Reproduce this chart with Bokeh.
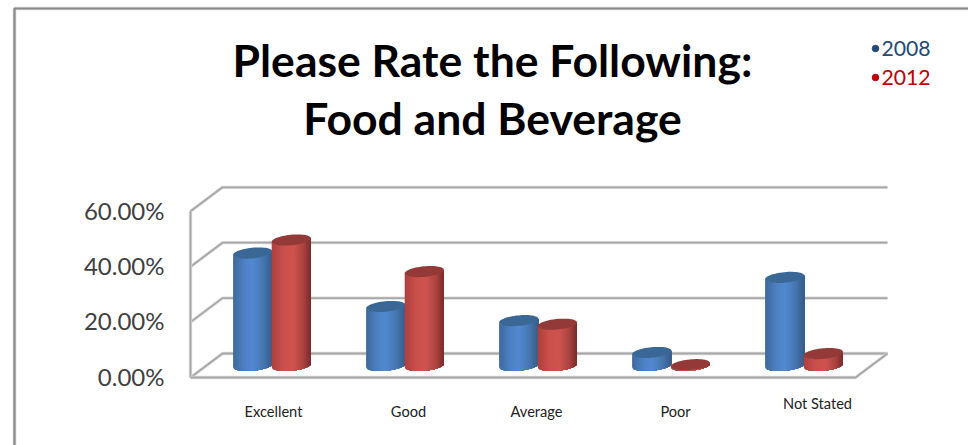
import numpy as np
from bokeh.plotting import figure
from bokeh.models import Range1d
from bokeh.core.properties import value
from bokeh.embed import file_html
from bokeh.resources import INLINE

# Survey results, percent of responses
categories = ["Excellent", "Good", "Average", "Poor", "Not Stated"]
series_2008 = [40.6, 21.3, 16.2, 4.7, 31.8]
series_2012 = [45.3, 33.9, 14.9, 0.3, 4.3]
y_ticks = [0, 20, 40, 60]
y_tick_labels = ["0.00%", "20.00%", "40.00%", "60.00%"]
legend_names = ["2008", "2012"]

W, H = 968, 445
PX_PER_PCT = 2.77      # vertical scale
PX_PER_CAT = 133.0     # horizontal scale
CAT0_PX = 271.5        # page x of the first category centre
ZERO_PX = 365.0        # page y of a cylinder's base centre
FRONT_DY = -12.0 / PX_PER_PCT   # front edge of the floor, relative to the bases
BACK_DY = 12.0 / PX_PER_PCT     # back edge of the floor, relative to the bases

p = figure(
    width=W, height=H, output_backend="svg", toolbar_location=None,
    x_range=Range1d(-CAT0_PX / PX_PER_CAT, (W - CAT0_PX) / PX_PER_CAT),
    y_range=Range1d(-(H - ZERO_PX) / PX_PER_PCT, ZERO_PX / PX_PER_PCT),
    x_axis_location=None, y_axis_location=None,
    min_border=0, outline_line_color=None, background_fill_color="white",
)
p.grid.visible = False


def X(px):
    return (px - CAT0_PX) / PX_PER_CAT


def Y(py):
    return (ZERO_PX - py) / PX_PER_PCT


def soft_line(xs, ys, color, width):
    p.line(xs, ys, line_color="#dcdcdc", line_width=width + 1.5)
    p.line(xs, ys, line_color=color, line_width=width)


# Page frame
soft_line([X(14), X(14), X(968)], [Y(445), Y(8), Y(8)], "#8a8a8a", 2.2)

# Walls and floor of the 3D plot box
WALL = "#a8a8a8"
left_x, back_x, right_x, right_back_x = X(190), X(222), X(855), X(887)
for t in y_ticks:
    soft_line([left_x, back_x, right_back_x], [t + FRONT_DY, t + BACK_DY, t + BACK_DY], WALL, 1.8)
soft_line([left_x, left_x], [FRONT_DY, y_ticks[-1] + FRONT_DY], WALL, 1.8)
soft_line([left_x, right_x, right_back_x], [FRONT_DY, FRONT_DY, BACK_DY], WALL, 1.8)

# Shading stops across a cylinder: position in [0, 1] and RGB
BLUE_STOPS = [(0, (62, 105, 155)), (0.3, (78, 130, 197)), (0.5, (82, 137, 207)),
              (0.75, (72, 120, 180)), (1, (56, 92, 136))]
RED_STOPS = [(0, (172, 64, 62)), (0.3, (203, 80, 77)), (0.55, (207, 84, 80)),
             (0.8, (172, 67, 64)), (1, (120, 44, 42))]
BLUE_TOP, RED_TOP = "#3a6796", "#933a38"

HALF_W = 19.6 / PX_PER_CAT     # half cylinder width
RY = 5.3 / PX_PER_PCT          # ellipse half height
TILT = 1.8 / PX_PER_PCT        # rise of the ellipse towards its right end
STRIPS = 40


def shade(stops, f):
    pos = [s[0] for s in stops]
    rgb = [int(round(np.interp(f, pos, [s[1][i] for s in stops]))) for i in range(3)]
    return "#%02x%02x%02x" % tuple(rgb)


def cylinder(cx, val, stops, top_color):
    # Each band runs from its left edge to the far right, so the next band
    # paints over it and no seams show between them.
    edges = np.linspace(-1, 1, STRIPS + 1)
    for u0, u1 in zip(edges[:-1], edges[1:]):
        us = np.linspace(u0, 1, 40)
        arc = TILT * us - RY * np.sqrt(np.clip(1 - us ** 2, 0, 1))
        col = shade(stops, (u0 + u1 + 2) / 4)
        p.patch(list(cx + HALF_W * us) + list(cx + HALF_W * us[::-1]),
                list(arc) + list((val + arc)[::-1]),
                fill_color=col, line_color=None)
    t = np.linspace(0, 2 * np.pi, 60)
    p.patch(cx + HALF_W * np.cos(t), val + TILT * np.cos(t) + RY * np.sin(t),
            fill_color=top_color, line_color=None)


OFFSET = 19.3 / PX_PER_CAT
for i, (a, b) in enumerate(zip(series_2008, series_2012)):
    cylinder(i - OFFSET, a, BLUE_STOPS, BLUE_TOP)
    cylinder(i + OFFSET, b, RED_STOPS, RED_TOP)


def label(x, y, txt, size, color="black", align="center", style="normal"):
    p.text([x], [y], text=[txt], text_font=value("Lato"), text_font_size=f"{size}px",
           text_color=color, text_align=align, text_baseline="middle",
           text_font_style=style)


# Axis labels
for t, s in zip(y_ticks, y_tick_labels):
    label(X(164), t + FRONT_DY + 0.4, s, 24, color="#404040", align="right")

cat_label_px = [273, 408, 536, 675, 817]
cat_label_py = [411, 411, 411, 411, 403]
for s, px, py in zip(categories, cat_label_px, cat_label_py):
    label(X(px), Y(py), s, 14.6, color="#222222")

# Title
label(X(492), Y(59), "Please Rate the Following:", 44.5, style="bold")
label(X(492), Y(117), "Food and Beverage", 44.5, style="bold")

# Legend
legend_colors = ["#254a75", "#c00000"]
for s, c, py in zip(legend_names, legend_colors, [48, 77]):
    p.scatter([X(875)], [Y(py)], size=6.5, fill_color=c, line_color=c, marker="circle")
    label(X(881), Y(py), s, 21.2, color=c, align="left")

open("out.html", "w").write(file_html(p, INLINE))
